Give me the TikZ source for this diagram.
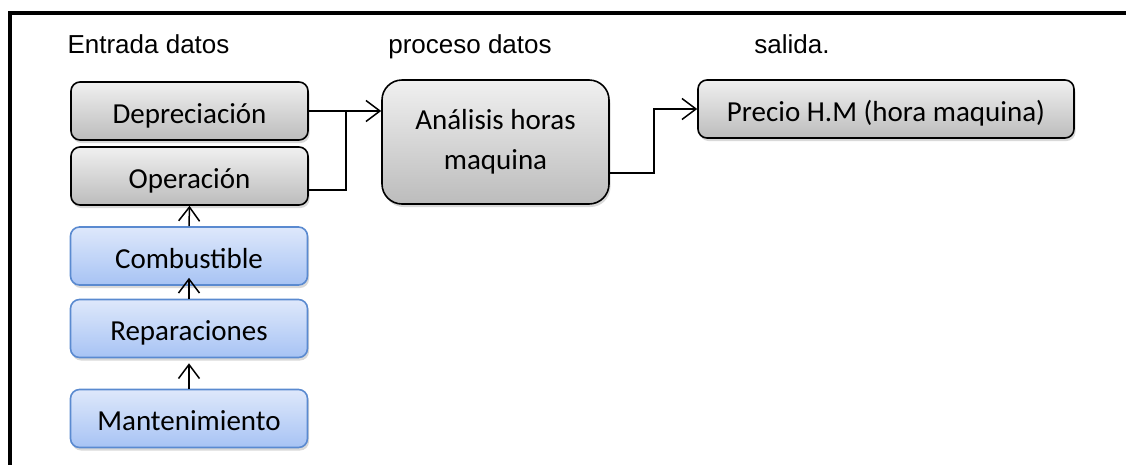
\documentclass[tikz,border=0pt]{standalone}
\usepackage{fontspec}
\setmainfont{Carlito}
\newfontfamily\arialfont{Liberation Sans}
\usetikzlibrary{arrows.meta,shadows}
\definecolor{grisA}{HTML}{F0F0F0}
\definecolor{grisB}{HTML}{BCBCBC}
\definecolor{azulA}{HTML}{DEE8FB}
\definecolor{azulB}{HTML}{A7C3F4}
\definecolor{azulC}{HTML}{5A8AD0}
\begin{document}
\begin{tikzpicture}[>={Straight Barb[length=14pt,width=21pt]},x=1pt,y=-1pt,line width=1.5pt,
	cajabase/.style={draw=black,line width=1.6pt,rounded corners=9pt,top color=grisA,bottom color=grisB,drop shadow={shadow xshift=1.5pt,shadow yshift=-3pt,opacity=.3},font=\fontsize{29}{40}\selectfont,inner sep=0pt},
	caja/.style={cajabase,minimum width=237pt,minimum height=58pt,text height=24pt,text depth=0pt},
	cajaazul/.style={caja,draw=azulC,top color=azulA,bottom color=azulB},
	titulo/.style={font=\arialfont\fontsize{26}{30}\selectfont,inner sep=0pt,anchor=base}]
		\useasboundingbox (0,0) rectangle (1126,464);
		\clip (0,0) rectangle (1126,464);
		\draw[line width=4pt] (9.5,480) -- (9.5,12.5) -- (1140,12.5); % marco
		\node[titulo] (tEnt) at (148.5,53) {Entrada datos};
		\node[titulo] (tPro) at (470,53) {proceso datos};
		\node[titulo] (tSal) at (792,53) {salida.};
		\node[caja] (dep) at (189.5,111) {Depreciación};
		\node[caja] (ope) at (189.5,176) {Operación};
		\node[cajaazul] (comb) at (189,256) {Combustible};
		\node[cajaazul] (rep) at (189,328.5) {Reparaciones};
		\node[cajaazul] (mant) at (189,418.5) {Mantenimiento};
		\node[cajabase,minimum width=227pt,minimum height=124pt,rounded corners=20pt,align=center] (ana) at (495.5,142) {Análisis horas\\maquina};
		\node[caja,minimum width=376pt] (prec) at (886,109) {Precio H.M (hora maquina)};
		\path (dep.east) ++(37,0) coordinate (jn);
		\draw[->] (dep.east) -- (dep.east -| ana.west);
		\draw ([yshift=-14pt]ope.east) -| (jn);
		\draw[->] ([yshift=-31pt]ana.east) -- ++(44,0) |- (prec.west);
		\draw[->] (comb.north) -- (ope.south);
		\draw[->] (rep.north) -- ([yshift=8pt]comb.south);
		\draw[->] (mant.north) -- ([yshift=-5pt]rep.south);
		
\end{tikzpicture}
\end{document}
